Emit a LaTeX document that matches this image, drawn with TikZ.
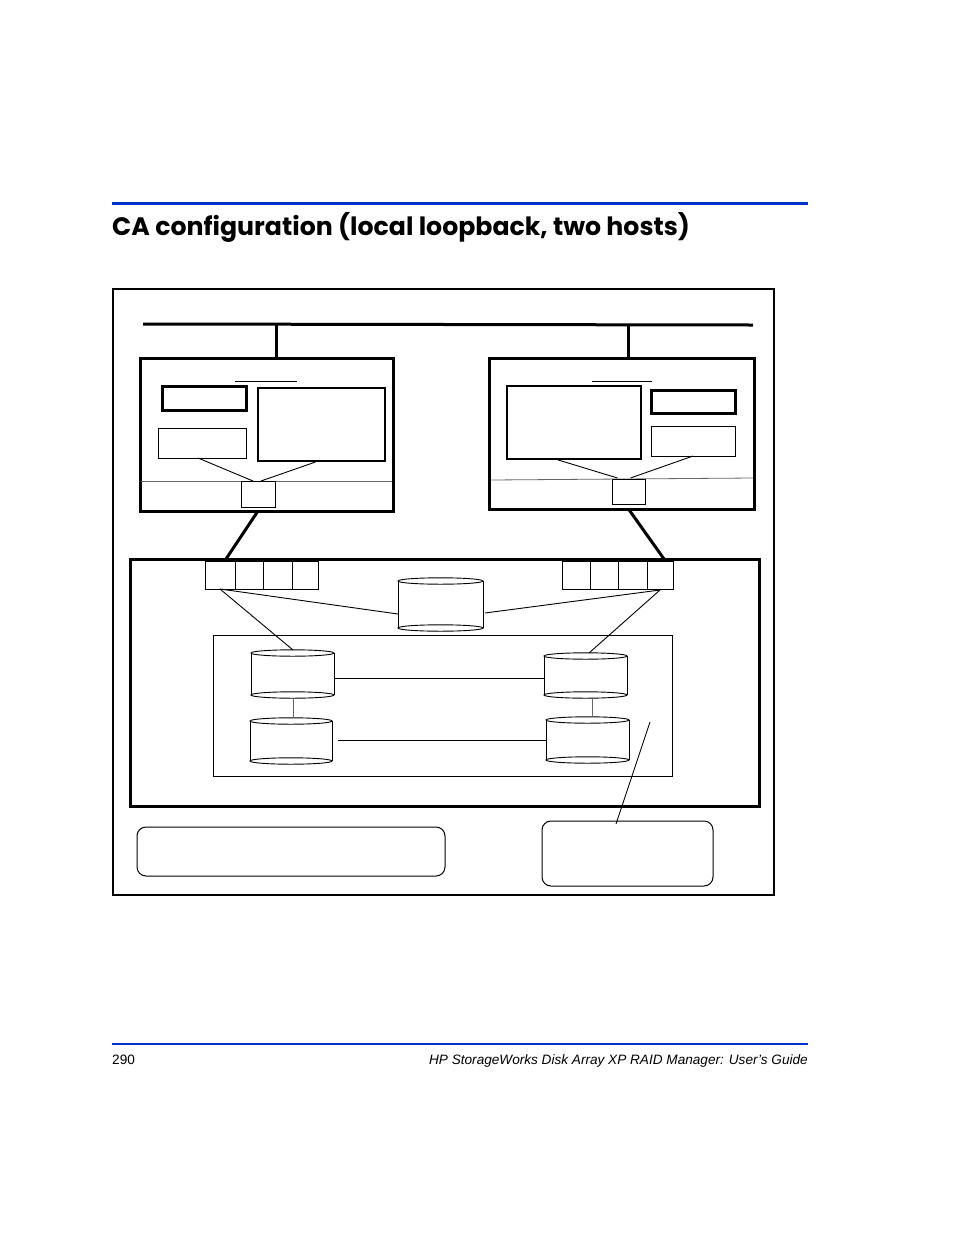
\documentclass[tikz,border=0pt]{standalone}
\usepackage{fontspec}
\setmainfont{Liberation Sans}
\newfontfamily\titlefont{Poppins}
\usetikzlibrary{calc}
\definecolor{hpblue}{RGB}{0,51,204}
\tikzset{
  thickbox/.style={draw, line width=3pt, inner sep=0pt, outer sep=0pt},
  midbox/.style={draw, line width=1.4pt, inner sep=0pt, outer sep=0pt},
  semibox/.style={draw, line width=3pt, inner sep=0pt, outer sep=0pt},
  thinbox/.style={draw, line width=0.8pt, inner sep=0pt, outer sep=0pt},
  roundbox/.style={draw, line width=1pt, rounded corners=9pt, inner sep=0pt, outer sep=0pt},
  cylnode/.style={inner sep=0pt, outer sep=0pt},
  cylline/.style={line width=0.9pt},
  wire/.style={line width=0.9pt},
  heavywire/.style={line width=3pt},
  graywire/.style={line width=0.8pt, black!60},
}
\newcommand\mkbox[6]{% style, name, x1, y1, x2, y2
  \pgfmathsetmacro\bw{#5-#3}\pgfmathsetmacro\bh{#6-#4}%
  \node[#1, anchor=north west, minimum width=\bw pt, minimum height=\bh pt] (#2) at (#3,#4) {};}
\newcommand\mkcyl[5]{% name, x1, ytop, x2, ybot
  \pgfmathsetmacro\cw{#4-#2}\pgfmathsetmacro\ch{#5-#3}\pgfmathsetmacro\crx{(#4-#2)/2}%
  \node[cylnode, anchor=north west, minimum width=\cw pt, minimum height=\ch pt] (#1) at (#2,#3) {};
  \fill[white] (#1.north west) rectangle (#1.south east);
  \draw[cylline, fill=white] (#1.south) ellipse [x radius=\crx, y radius=3.2];
  \fill[white] (#1.north west) rectangle (#1.south east);
  \draw[cylline] (#1.north west) -- (#1.south west) (#1.north east) -- (#1.south east);
  \draw[cylline] (#1.south west) arc[start angle=180, end angle=360, x radius=\crx, y radius=3.2];
  \draw[cylline, fill=white] (#1.north) ellipse [x radius=\crx, y radius=3.2];}
\begin{document}
\begin{tikzpicture}[x=1pt, y=-1pt]
\useasboundingbox (0,0) rectangle (954,1235);
\fill[white] (0,0) rectangle (954,1235);

% header
\coordinate (hrL) at (112,203);
\coordinate (hrR) at (808,203);
\draw[hpblue, line width=3pt] (hrL) -- (hrR);
\node[anchor=base west, inner sep=0pt, font=\titlefont\bfseries\fontsize{25.2}{30}\selectfont] (title) at (112,235) {CA configuration (local loopback, two hosts)};

% outer frame
\mkbox{midbox}{frame}{113}{289}{774}{895}

% bus
\coordinate (busL) at (143,324);
\coordinate (busR) at (753,325);
\draw[heavywire] (busL) -- (busR);
\coordinate (b1) at (276,324.5);
\coordinate (b2) at (628,324.8);

% left host
\mkbox{thickbox}{H1}{140}{358}{393}{511}
\draw[heavywire] (b1) -- (b1 |- H1.north);
\coordinate (u1a) at (235,381); \coordinate (u1b) at (297,381);
\draw[thinbox] (u1a) -- (u1b);
\mkbox{semibox}{H1k}{162}{386}{246}{410}
\mkbox{thinbox}{H1s}{158}{428}{246}{458}
\mkbox{midbox}{H1b}{258}{388}{385}{461}
\coordinate (d1a) at (141,481); \coordinate (d1b) at (392,481);
\draw[graywire] (d1a) -- (d1b);
\mkbox{thinbox}{H1p}{241}{481}{275}{507}
\draw[wire] ($(H1s.south)+(-4,0)$) -- ($(H1p.north)+(-5,0)$);
\draw[wire] ($(H1b.south)+(-6,1)$) -- ($(H1p.north)+(3,0)$);

% right host
\mkbox{thickbox}{H2}{489}{358}{754}{509}
\draw[heavywire] (b2) -- (b2 |- H2.north);
\coordinate (u2a) at (592,381); \coordinate (u2b) at (652,381);
\draw[thinbox] (u2a) -- (u2b);
\mkbox{midbox}{H2b}{507}{386}{641}{459}
\mkbox{semibox}{H2k}{651}{390}{735}{413}
\mkbox{thinbox}{H2s}{651}{426}{735}{456}
\coordinate (d2a) at (491,480); \coordinate (d2b) at (753,478);
\draw[graywire] (d2a) -- (d2b);
\mkbox{thinbox}{H2p}{612}{479}{645}{504}
\draw[wire] ($(H2b.south)+(-19,0)$) -- ($(H2p.north)+(-11,-1)$);
\draw[wire] ($(H2s.south)+(0,0)$) -- ($(H2p.north)+(2,-1)$);

% array
\mkbox{thickbox}{A}{130}{559}{759}{806}
\coordinate (a1) at (226,559);
\coordinate (a2) at (664,559);
\draw[heavywire] (H1p |- H1.south) -- (a1);
\draw[heavywire] (H2p |- H2.south) -- (a2);

% port strips
\mkbox{thinbox}{PL1}{205}{561}{235}{589}
\mkbox{thinbox}{PL2}{235}{561}{263}{589}
\mkbox{thinbox}{PL3}{263}{561}{292}{589}
\mkbox{thinbox}{PL4}{292}{561}{318}{589}
\mkbox{thinbox}{PR1}{562}{561}{590}{589}
\mkbox{thinbox}{PR2}{590}{561}{618}{589}
\mkbox{thinbox}{PR3}{618}{561}{647}{589}
\mkbox{thinbox}{PR4}{647}{561}{673}{589}

% inner box
\mkbox{thinbox}{I}{213}{635}{672}{776}

% cylinders
\mkcyl{C0}{398}{581}{483}{628}
\mkcyl{LT}{251}{653}{334}{695}
\mkcyl{LB}{250}{721}{332}{761}
\mkcyl{RT}{544}{656}{627}{695}
\mkcyl{RB}{546}{720}{629}{760}

% array wiring
\draw[wire] (PL1.south) -- ($(C0.west)+(0,9.5)$);
\draw[wire] ($(PR4.south)+(0,1)$) -- ($(C0.east)+(2,8.5)$);
\draw[wire] (PL1.south) -- ($(LT.north)+(0.5,-3)$);
\draw[wire] ($(PR4.south)+(0,1)$) -- ($(RT.north)+(3.5,-3)$);
\draw[graywire] ($(LT.south)+(0.5,3.5)$) -- ($(LB.north)+(2,-3.5)$);
\draw[graywire] ($(RT.south)+(6.5,3.5)$) -- ($(RB.north)+(4.5,-3.5)$);
\coordinate (h1) at ($(LT.east)+(0,4)$);
\draw[wire] (h1) -- (h1 -| RT.west);
\coordinate (h2) at ($(LB.east)+(6,-1)$);
\draw[wire] (h2) -- (h2 -| RB.west);

% bottom boxes
\mkbox{roundbox}{R1}{137}{827}{445}{876}
\mkbox{roundbox}{R2}{542}{821}{713}{886}
\coordinate (lbl) at (650,722);
\draw[wire] (lbl) -- ($(R2.north)+(-11.5,3)$);

% footer
\coordinate (frL) at (112,1043.5);
\coordinate (frR) at (808,1043.5);
\draw[hpblue, line width=2pt] (frL) -- (frR);
\node[anchor=base west, inner sep=0pt, font=\fontsize{13.6}{16}\selectfont] (pg) at (112,1064) {290};
\node[anchor=base east, inner sep=0pt, font=\itshape\fontsize{13.6}{16}\selectfont] (ft) at (808,1064) {HP StorageWorks Disk Array XP RAID Manager: User’s Guide};
\end{tikzpicture}
\end{document}
